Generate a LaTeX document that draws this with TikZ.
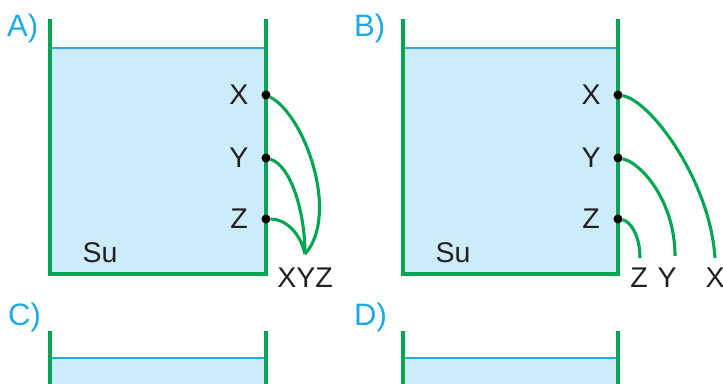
\documentclass[tikz,border=0pt]{standalone}
\usepackage{fontspec}
\setmainfont{Liberation Sans}
\definecolor{wall}{RGB}{0,166,81}
\definecolor{waterline}{RGB}{41,171,226}
\definecolor{water}{RGB}{205,236,249}
\definecolor{lbl}{RGB}{28,170,227}
\definecolor{ink}{RGB}{35,31,32}
\begin{document}
\begin{tikzpicture}[x=1pt,y=-1pt,
  wallline/.style={draw=wall,line width=3.5pt},
  surf/.style={draw=waterline,line width=2.4pt},
  wire/.style={draw=wall,line width=3.1pt},
  contact/.style={circle,fill=black,inner sep=0pt,minimum size=9pt},
  tag/.style={font=\fontsize{28.5}{28.5}\selectfont,text=ink,inner sep=0pt},
  panel/.style={font=\fontsize{31}{31}\selectfont,text=lbl,inner sep=0pt,anchor=base west}]
\useasboundingbox (0,0) rectangle (723,383);

% ---------- Panel A ----------
\fill[water] (50,48) rectangle (266,274);
\draw[surf] (50,48) -- (266,48);
\draw[wallline] (50,19) -- (50,274) -- (266,274) -- (266,19);
\node[panel] (pa) at (7,36) {A)};
\node[contact] (ax) at (266,95) {};
\node[contact] (ay) at (266,158) {};
\node[contact] (az) at (266,219) {};
\coordinate (aend) at (305,254);
\draw[wire] (ax) .. controls (305,115) and (340,215) .. (aend);
\draw[wire] (ay) .. controls (290,165) and (305,210) .. (aend);
\draw[wire] (az) .. controls (285,219) and (300,232) .. (aend);
\node[tag] (alx) at (239,94.5) {X};
\node[tag] (aly) at (239,157.5) {Y};
\node[tag] (alz) at (239,218.5) {Z};
\node[tag,anchor=base] (asu) at (100,262) {Su};
\node[tag,anchor=base] (axyz) at (305,287) {XYZ};

% ---------- Panel B ----------
\fill[water] (403,48) rectangle (618,274);
\draw[surf] (403,48) -- (618,48);
\draw[wallline] (403,19) -- (403,274) -- (618,274) -- (618,19);
\node[panel] (pb) at (354,36) {B)};
\node[contact] (bx) at (618,95) {};
\node[contact] (by) at (618,158) {};
\node[contact] (bz) at (618,219) {};
\coordinate (bxe) at (715,258);
\coordinate (bye) at (675,256);
\coordinate (bze) at (640,258);
\draw[wire] (bx) .. controls (650,100) and (710,180) .. (bxe);
\draw[wire] (by) .. controls (640,162) and (675,200) .. (bye);
\draw[wire] (bz) .. controls (630,221) and (640,235) .. (bze);
\node[tag] (blx) at (591,94.5) {X};
\node[tag] (bly) at (591,157.5) {Y};
\node[tag] (blz) at (591,218.5) {Z};
\node[tag,anchor=base] (bsu) at (453,262) {Su};
\node[tag,anchor=base] (bez) at (639,287) {Z};
\node[tag,anchor=base] (bey) at (667,287) {Y};
\node[tag,anchor=base] (bex) at (715,287) {X};

% ---------- Panel C ----------
\fill[water] (50,358) rectangle (266,390);
\draw[surf] (50,358) -- (266,358);
\draw[wallline] (50,331) -- (50,390);
\draw[wallline] (266,331) -- (266,390);
\node[panel] (pc) at (8,325) {C)};

% ---------- Panel D ----------
\fill[water] (403,358) rectangle (618,390);
\draw[surf] (403,358) -- (618,358);
\draw[wallline] (403,331) -- (403,390);
\draw[wallline] (618,331) -- (618,390);
\node[panel] (pd) at (354,325) {D)};
\end{tikzpicture}
\end{document}
